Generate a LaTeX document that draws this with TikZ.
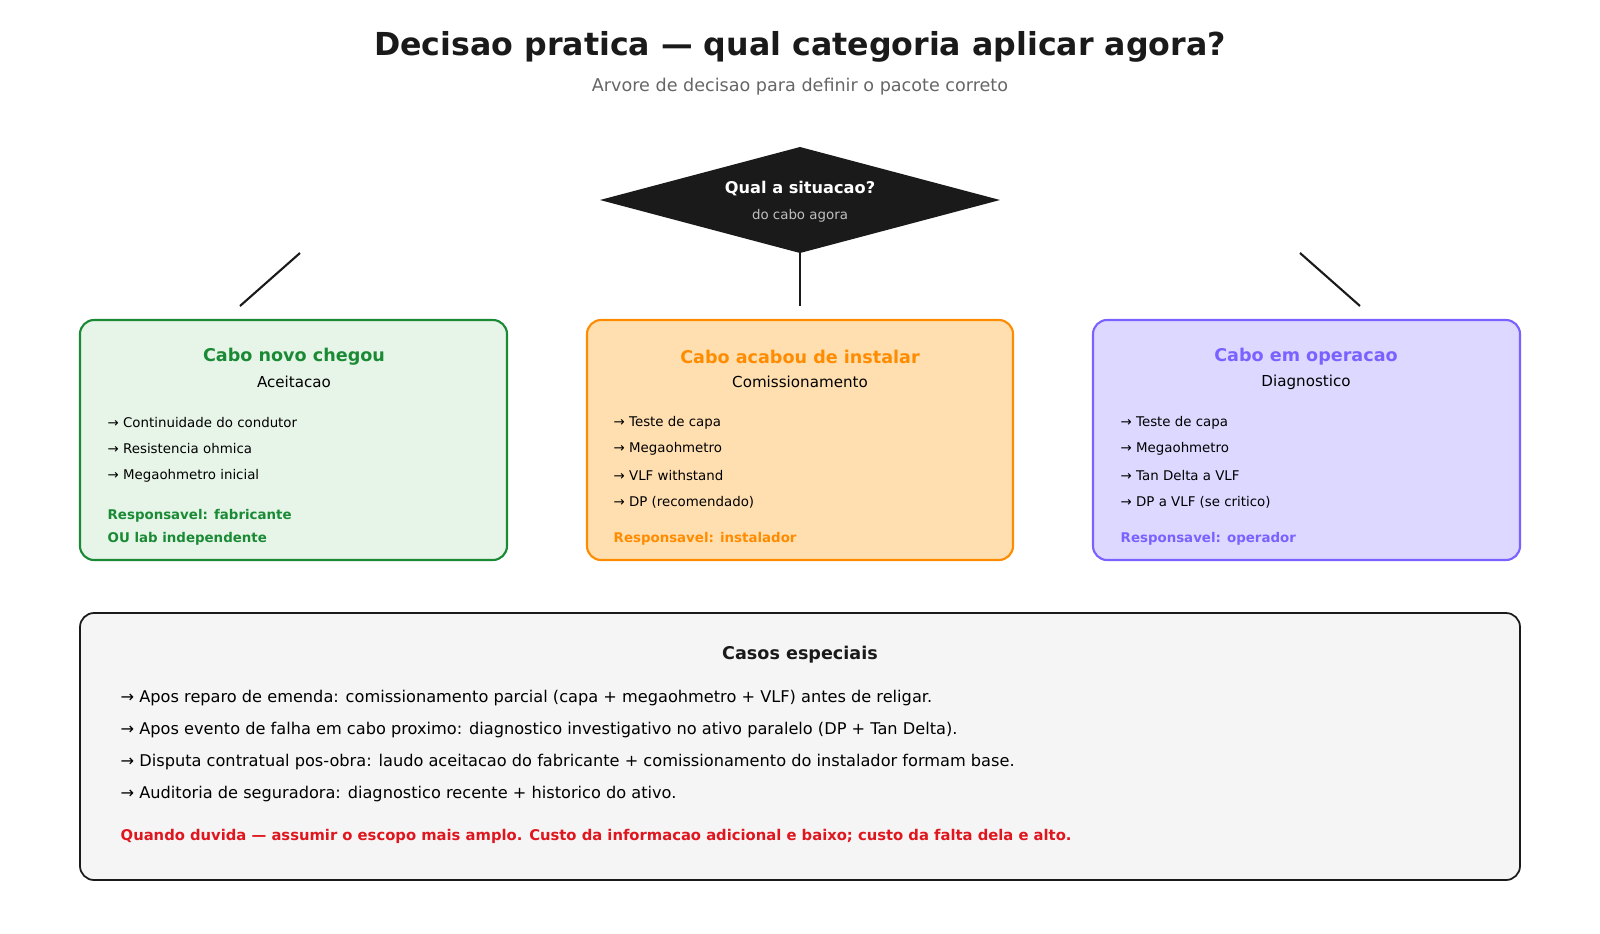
\documentclass[tikz,border=0pt]{standalone}
\usepackage{fontspec}
\setmainfont{DejaVu Sans}
\usetikzlibrary{shapes.geometric}
\definecolor{cgreen}{HTML}{1A8A35}
\definecolor{fgreen}{HTML}{E7F5E9}
\definecolor{corange}{HTML}{FF8C00}
\definecolor{forange}{HTML}{FFDFB0}
\definecolor{cpurple}{HTML}{7B61FF}
\definecolor{fpurple}{HTML}{DDD8FF}
\definecolor{cred}{HTML}{E0161E}
\definecolor{cdark}{HTML}{1A1A1A}
\newcommand{\fs}[1]{\fontsize{#1}{#1}\selectfont}
\tikzset{
  catbox/.style={draw=#1, line width=0.6pt, rounded corners=4pt},
  item/.style={anchor=west, inner sep=0pt, font=\fs{3.8}},
  resp/.style={anchor=west, inner sep=0pt, font=\fs{3.8}\bfseries},
  link/.style={draw=cdark, line width=0.6pt}
}
\begin{document}
\begin{tikzpicture}[x=0.01cm, y=-0.01cm]
        \useasboundingbox (0,0) rectangle (1600,933); % page size
        \node[text=cdark, font=\fs{9}\bfseries] (title) at (800,47) {Decisao pratica — qual categoria aplicar agora?};
        \node[text=black!60, font=\fs{5}] (subtitle) at (800,87) {Arvore de decisao para definir o pacote correto};

        % decision diamond
        \fill[cdark] (600,200) -- (800,147) -- (1000,200) -- (800,253) -- cycle;
        \coordinate (dia) at (800,253);
        \node[text=white, font=\fs{4.6}\bfseries] (q) at (800,189) {Qual a situacao?};
        \node[text=black!25, font=\fs{3.8}] (qsub) at (800,216) {do cabo agora};

        \coordinate (l1) at (300,253); \coordinate (l2) at (240,306);
        \coordinate (r1) at (1300,253); \coordinate (r2) at (1360,306);
        \coordinate (m2) at (800,306);
        \draw[link] (l1) -- (l2);
        \draw[link] (dia) -- (m2);
        \draw[link] (r1) -- (r2);

        % three category boxes
        \draw[catbox=cgreen, fill=fgreen] (80,320) rectangle (507,560);
        \draw[catbox=corange, fill=forange] (587,320) rectangle (1013,560);
        \draw[catbox=cpurple, fill=fpurple] (1093,320) rectangle (1520,560);

        \node[text=cgreen, font=\fs{5}\bfseries] (gt) at (294,357) {Cabo novo chegou};
        \node[font=\fs{4.3}] (gs) at (294,382) {Aceitacao};
        \foreach \t [count=\i] in {Continuidade do condutor, Resistencia ohmica, Megaohmetro inicial}
        \node[item] (g\i) at (107,396+26.5*\i) {→ \t};
        \node[resp, text=cgreen] (gr1) at (107,516) {Responsavel: fabricante};
        \node[resp, text=cgreen] (gr2) at (107,539) {OU lab independente};

        \node[text=corange, font=\fs{5}\bfseries] (ot) at (800,357) {Cabo acabou de instalar};
        \node[font=\fs{4.3}] (os) at (800,382) {Comissionamento};
        \foreach \t [count=\i] in {Teste de capa, Megaohmetro, VLF withstand, DP (recomendado)}
        \node[item] (o\i) at (613,396+26.5*\i) {→ \t};
        \node[resp, text=corange] (or) at (613,539) {Responsavel: instalador};

        \node[text=cpurple, font=\fs{5}\bfseries] (pt) at (1306,357) {Cabo em operacao};
        \node[font=\fs{4.3}] (ps) at (1306,382) {Diagnostico};
        \foreach \t [count=\i] in {Teste de capa, Megaohmetro, Tan Delta a VLF, DP a VLF (se critico)}
        \node[item] (p\i) at (1120,396+26.5*\i) {→ \t};
        \node[resp, text=cpurple] (pr) at (1120,539) {Responsavel: operador};

        % special cases
        \draw[draw=cdark, fill=black!4, line width=0.5pt, rounded corners=4pt] (80,613) rectangle (1520,880);
        \node[text=cdark, font=\fs{5}\bfseries] (ct) at (800,655) {Casos especiais};
        \foreach \t [count=\i] in {Apos reparo de emenda: comissionamento parcial (capa + megaohmetro + VLF) antes de religar.,
          Apos evento de falha em cabo proximo: diagnostico investigativo no ativo paralelo (DP + Tan Delta).,
          Disputa contratual pos-obra: laudo aceitacao do fabricante + comissionamento do instalador formam base.,
          Auditoria de seguradora: diagnostico recente + historico do ativo.}
        \node[anchor=west, inner sep=0pt, font=\fs{4.6}] (c\i) at (120,666+32*\i) {→ \t};
        \node[resp, text=cred, font=\fs{4.2}\bfseries] (cw) at (120,836) {Quando duvida — assumir o escopo mais amplo. Custo da informacao adicional e baixo; custo da falta dela e alto.};
\end{tikzpicture}
\end{document}
